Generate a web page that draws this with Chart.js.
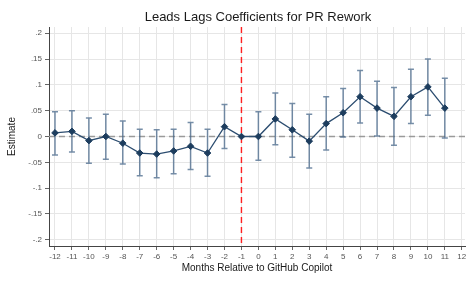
<!DOCTYPE html>
<html>
<head>
<meta charset="utf-8">
<script src="https://cdn.jsdelivr.net/npm/chart.js@4/dist/chart.umd.min.js"></script>
<style>
  html, body { margin: 0; padding: 0; background: #fff; }
  #wrap { width: 476px; height: 286px; }
</style>
</head>
<body>
<div id="wrap"><canvas id="leadsLags"></canvas></div>
<script>
// ---- data ----
const months   = [-12, -11, -10, -9, -8, -7, -6, -5, -4, -3, -2, -1, 0, 1, 2, 3, 4, 5, 6, 7, 8, 9, 10, 11];
const estimate = [0.007, 0.010, -0.008, 0.000, -0.013, -0.032, -0.034, -0.028, -0.019, -0.032, 0.019, 0.000,
                  0.000, 0.034, 0.013, -0.009, 0.025, 0.046, 0.077, 0.055, 0.039, 0.077, 0.096, 0.055];
const ciLow    = [-0.036, -0.030, -0.052, -0.044, -0.053, -0.076, -0.080, -0.072, -0.064, -0.077, -0.023, null,
                  -0.046, -0.016, -0.040, -0.061, -0.026, -0.001, 0.026, 0.001, -0.017, 0.025, 0.041, -0.003];
const ciHigh   = [0.048, 0.050, 0.036, 0.043, 0.030, 0.014, 0.013, 0.014, 0.027, 0.014, 0.062, null,
                  0.048, 0.084, 0.064, 0.043, 0.077, 0.093, 0.128, 0.107, 0.095, 0.130, 0.150, 0.113];
const xTicks   = [-12, -11, -10, -9, -8, -7, -6, -5, -4, -3, -2, -1, 0, 1, 2, 3, 4, 5, 6, 7, 8, 9, 10, 11, 12];
const yTicks   = [-0.2, -0.15, -0.1, -0.05, 0, 0.05, 0.1, 0.15, 0.2];
const eventMonth = -1;

const FONT = '"Liberation Sans", Arial, sans-serif';

// stata style labels: .05, -.1, 0
function stataNum(v) {
    if (Math.abs(v) < 1e-9) return '0';
    let s = String(Math.round(v * 100) / 100);
    return s.replace(/^(-?)0\./, '$1.');
}

// reference lines + error bars, drawn through the scales
const extrasPlugin = {
    id: 'extras',
    beforeDatasetsDraw(chart) {
        const {ctx, chartArea, scales: {x, y}} = chart;
        ctx.save();

        // zero line
        const y0 = y.getPixelForValue(0);
        ctx.strokeStyle = '#9a9a9a';
        ctx.lineWidth = 1.5;
        ctx.setLineDash([6, 4]);
        ctx.beginPath();
        ctx.moveTo(chartArea.left, y0);
        ctx.lineTo(chartArea.right, y0);
        ctx.stroke();

        // event month line
        const xe = x.getPixelForValue(eventMonth);
        ctx.strokeStyle = '#ff2020';
        ctx.lineWidth = 1.4;
        ctx.setLineDash([6, 4]);
        ctx.beginPath();
        ctx.moveTo(xe, chartArea.top);
        ctx.lineTo(xe, chartArea.bottom);
        ctx.stroke();

        // error bars
        ctx.setLineDash([]);
        ctx.strokeStyle = 'rgba(65, 98, 135, 0.72)';
        ctx.lineWidth = 1.5;
        months.forEach((m, i) => {
            if (ciLow[i] === null) return;
            const px = x.getPixelForValue(m);
            const lo = y.getPixelForValue(ciLow[i]);
            const hi = y.getPixelForValue(ciHigh[i]);
            ctx.beginPath();
            ctx.moveTo(px, lo); ctx.lineTo(px, hi);
            ctx.moveTo(px - 3, lo); ctx.lineTo(px + 3, lo);
            ctx.moveTo(px - 3, hi); ctx.lineTo(px + 3, hi);
            ctx.stroke();
        });
        ctx.restore();
    },
    afterDraw(chart) {
        // title centred over the plot area
        const {ctx, chartArea} = chart;
        ctx.save();
        ctx.fillStyle = '#1a1a1a';
        ctx.font = '13px ' + FONT;
        ctx.textAlign = 'center';
        ctx.textBaseline = 'alphabetic';
        ctx.fillText('Leads Lags Coefficients for PR Rework', (chartArea.left + chartArea.right) / 2 + 1, 21);
        ctx.restore();
    }
};

const gridStyle = {
    color: '#e6e6e6',
    lineWidth: 1,
    borderDash: [4, 3],
    tickLength: 4,
    tickColor: '#666',
    tickWidth: 1,
    tickBorderDash: []
};

new Chart(document.getElementById('leadsLags'), {
    type: 'line',
    data: {
        datasets: [{
            label: 'Estimate',
            data: months.map((m, i) => ({x: m, y: estimate[i]})),
            borderColor: '#2c4d70',
            borderWidth: 1.3,
            backgroundColor: '#1d3d5e',
            pointBackgroundColor: '#1d3d5e',
            pointBorderColor: '#1d3d5e',
            pointStyle: 'rectRot',
            pointRadius: 3.3,
            pointBorderWidth: 1,
            tension: 0,
            fill: false
        }]
    },
    options: {
        responsive: true,
        maintainAspectRatio: false,
        animation: false,
        events: [],
        layout: { padding: { top: 27, right: 11, left: 0, bottom: 0 } },
        plugins: {
            legend: { display: false },
            title: { display: false },
            tooltip: { enabled: false }
        },
        scales: {
            x: {
                type: 'linear',
                min: -12.354,
                max: 12.19,
                afterBuildTicks: s => { s.ticks = xTicks.map(v => ({value: v})); },
                afterFit: s => { s.height = 40; },
                grid: gridStyle,
                border: { color: '#444', width: 1 },
                ticks: {
                    color: '#555',
                    font: { family: FONT, size: 8 },
                    padding: 2,
                    maxRotation: 0,
                    autoSkip: false,
                    callback: v => String(v)
                },
                title: {
                    display: true,
                    text: 'Months Relative to GitHub Copilot',
                    color: '#1a1a1a',
                    font: { family: FONT, size: 10 },
                    padding: { top: 0, bottom: 12 }
                }
            },
            y: {
                min: -0.212,
                max: 0.212,
                afterBuildTicks: s => { s.ticks = yTicks.map(v => ({value: v})); },
                afterFit: s => { s.width = 49; },
                grid: gridStyle,
                border: { color: '#444', width: 1 },
                ticks: {
                    color: '#555',
                    font: { family: FONT, size: 8 },
                    padding: 3,
                    autoSkip: false,
                    callback: v => stataNum(v)
                },
                title: {
                    display: true,
                    text: 'Estimate',
                    color: '#1a1a1a',
                    font: { family: FONT, size: 10 },
                    padding: { top: 6, bottom: 0 }
                }
            }
        }
    },
    plugins: [extrasPlugin]
});
</script>
</body>
</html>
